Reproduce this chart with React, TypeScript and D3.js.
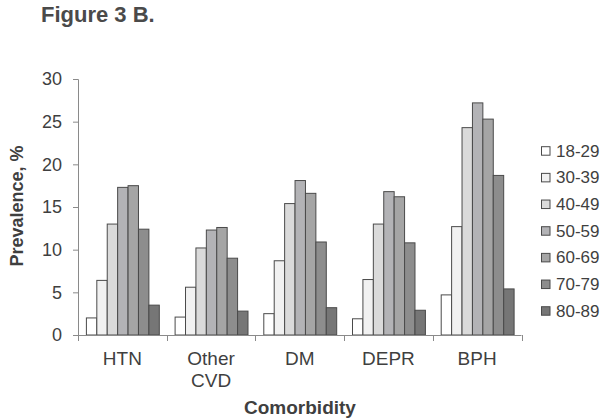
import { useEffect, useRef } from "react";
import * as d3 from "d3";

const categories = ["HTN", "Other CVD", "DM", "DEPR", "BPH"];
const ageGroups = ["18-29", "30-39", "40-49", "50-59", "60-69", "70-79", "80-89"];
const groupColors = ["#ffffff", "#f1f1f1", "#dadada", "#b3b3b6", "#a5a5a5", "#8d8d8d", "#767676"];

// prevalence (%) per age group, in category order
const htn = [2.0, 6.4, 13.0, 17.3, 17.5, 12.4, 3.5];
const otherCvd = [2.1, 5.6, 10.2, 12.3, 12.6, 9.0, 2.8];
const dm = [2.5, 8.7, 15.4, 18.1, 16.6, 10.9, 3.2];
const depr = [1.9, 6.5, 13.0, 16.8, 16.2, 10.8, 2.9];
const bph = [4.7, 12.7, 24.3, 27.2, 25.3, 18.7, 5.4];
const seriesByCategory = [htn, otherCvd, dm, depr, bph];

const yTicks = [0, 5, 10, 15, 20, 25, 30];

export default function App() {
  const svgRef = useRef<SVGSVGElement>(null);

  useEffect(() => {
    const svg = d3.select(svgRef.current);
    svg.selectAll("*").remove();

    const width = 604;
    const height = 419;
    const left = 78;
    const right = 521.5;
    const top = 79;
    const bottom = 335;
    const textColor = "#3f3f3f";
    const axisColor = "#8a8a8a";
    const font = "Liberation Sans, Arial, sans-serif";

    svg.attr("width", width).attr("height", height).style("font-family", font);

    // title
    svg.append("text")
      .attr("x", 41).attr("y", 22)
      .attr("font-size", 22).attr("font-weight", "bold")
      .attr("fill", "#4a4a4a")
      .text("Figure 3 B.");

    const x0 = d3.scaleBand<string>().domain(categories).range([left, right]).padding(0);
    const pad = 7.9;
    const x1 = d3.scaleBand<string>().domain(ageGroups).range([pad, x0.bandwidth() - pad]).padding(0);
    const y = d3.scaleLinear().domain([0, 30]).range([bottom, top]);

    // y axis
    const yAxis = svg.append("g")
      .attr("transform", `translate(${left},0)`)
      .call(d3.axisLeft(y).tickValues(yTicks).tickSize(5).tickPadding(11));
    yAxis.select(".domain").attr("stroke", axisColor);
    yAxis.selectAll(".tick line").attr("stroke", axisColor);
    yAxis.selectAll(".tick text")
      .attr("fill", textColor).attr("font-size", 18).attr("font-family", font);

    // bars
    const groups = svg.append("g")
      .selectAll("g")
      .data(categories)
      .join("g")
      .attr("transform", d => `translate(${x0(d)},0)`);

    groups.selectAll("rect")
      .data((d, i) => seriesByCategory[i].map((v, j) => ({ key: ageGroups[j], v, j })))
      .join("rect")
      .attr("x", d => (x1(d.key) as number) + 0.5)
      .attr("y", d => y(d.v))
      .attr("width", x1.bandwidth())
      .attr("height", d => bottom - y(d.v))
      .attr("fill", d => groupColors[d.j])
      .attr("stroke", "#4a4a4a")
      .attr("stroke-width", 1);

    // x axis: tick marks at category boundaries
    svg.append("line")
      .attr("x1", left).attr("x2", right)
      .attr("y1", bottom + 0.5).attr("y2", bottom + 0.5)
      .attr("stroke", axisColor);
    const bounds = categories.map(c => x0(c) as number).concat([right]);
    svg.append("g")
      .selectAll("line")
      .data(bounds)
      .join("line")
      .attr("x1", d => Math.round(d) + 0.5).attr("x2", d => Math.round(d) + 0.5)
      .attr("y1", bottom).attr("y2", bottom + 6)
      .attr("stroke", axisColor);

    // category labels
    const labels = svg.append("g")
      .selectAll("text")
      .data(categories)
      .join("text")
      .attr("x", d => (x0(d) as number) + x0.bandwidth() / 2)
      .attr("y", 365)
      .attr("text-anchor", "middle")
      .attr("font-size", 19)
      .attr("fill", textColor);
    labels.each(function (d) {
      const words = d.split(" ");
      const t = d3.select(this);
      words.forEach((w, i) => {
        t.append("tspan")
          .attr("x", (x0(d) as number) + x0.bandwidth() / 2)
          .attr("dy", i === 0 ? 0 : 21.5)
          .text(w);
      });
    });

    // axis titles
    svg.append("text")
      .attr("x", 300).attr("y", 414)
      .attr("text-anchor", "middle")
      .attr("font-size", 19).attr("font-weight", "bold")
      .attr("fill", textColor)
      .text("Comorbidity");

    svg.append("text")
      .attr("transform", `translate(23,206) rotate(-90)`)
      .attr("text-anchor", "middle")
      .attr("font-size", 18).attr("font-weight", "bold")
      .attr("fill", textColor)
      .text("Prevalence, %");

    // legend
    const legend = svg.append("g")
      .selectAll("g")
      .data(ageGroups)
      .join("g")
      .attr("transform", (d, i) => `translate(541,${150.7 + i * 26.67})`);
    legend.append("rect")
      .attr("x", 0.5).attr("y", -4)
      .attr("width", 8.5).attr("height", 8.5)
      .attr("fill", (d, i) => groupColors[i])
      .attr("stroke", "#4a4a4a");
    legend.append("text")
      .attr("x", 15).attr("y", 0)
      .attr("dy", "0.35em")
      .attr("font-size", 17)
      .attr("fill", textColor)
      .text(d => d);
  }, []);

  return (
    <svg ref={svgRef} style={{ position: "absolute", left: 0, top: 0, display: "block" }} />
  );
}
